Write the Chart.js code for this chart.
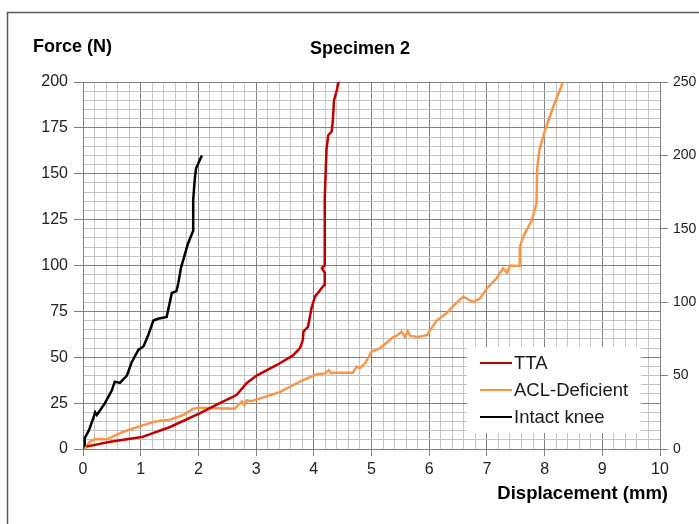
<!DOCTYPE html>
<html>
<head>
<meta charset="utf-8">
<script src="https://cdn.jsdelivr.net/npm/chart.js@4"></script>
<style>
  html, body { margin: 0; padding: 0; background: #fff; }
  #wrap { width: 699px; height: 524px; }
</style>
</head>
<body>
<div id="wrap"><canvas id="forceChart" width="699" height="524"></canvas></div>
<script>
// Specimen 2 - force vs displacement
var seriesNames = ['TTA', 'ACL-Deficient', 'Intact knee'];
var seriesColors = ['#c00000', '#f79646', '#000000'];

var ttaX = [0.06, 0.47, 1.02, 1.51, 2.03, 2.37, 2.66, 2.84, 3.01, 3.36, 3.64, 3.76, 3.81, 3.82, 3.90, 3.96, 4.02, 4.18, 4.19, 4.14, 4.19, 4.19, 4.22, 4.25, 4.31, 4.33, 4.35, 4.40, 4.43];
var ttaY = [1.3, 4, 6.5, 12, 19.6, 25, 29.4, 36, 40, 45.8, 51, 55, 59.4, 64, 66.6, 76.7, 83, 89.4, 96, 98.6, 100, 137.5, 163, 171, 173, 179, 190, 195.6, 200];

var aclX = [0.03, 0.12, 0.21, 0.41, 0.70, 1.05, 1.25, 1.51, 1.74, 1.91, 2.03, 2.63, 2.75, 2.80, 2.84, 2.92, 3.07, 3.41, 3.76, 4.05, 4.20, 4.26, 4.30, 4.34, 4.68, 4.74, 4.80, 4.89, 5.00, 5.15, 5.38, 5.45, 5.52, 5.58, 5.63, 5.67, 5.81, 5.96, 6.13, 6.30, 6.45, 6.59, 6.76, 6.88, 7.00, 7.17, 7.28, 7.35, 7.40, 7.57, 7.57, 7.63, 7.78, 7.86, 7.87, 7.91, 8.01, 8.15, 8.32];
var aclY = [0, 4, 5.4, 5.3, 9.4, 13, 15, 16, 18.5, 22, 22.5, 22, 25.8, 24, 26.5, 26, 27.6, 31, 36.7, 40.8, 41.2, 43, 41.2, 41.6, 41.6, 44.9, 44, 46.7, 53, 55, 61, 62, 64, 61, 64, 61.6, 61, 62, 70, 74, 79, 83, 80, 82, 87.5, 93, 98.5, 96, 100, 99.7, 110, 115.7, 124.8, 134, 152, 163, 174, 186.5, 200];

var intactX = [0.03, 0.03, 0.10, 0.18, 0.21, 0.24, 0.38, 0.50, 0.55, 0.64, 0.76, 0.84, 0.96, 1.05, 1.13, 1.22, 1.30, 1.45, 1.54, 1.62, 1.65, 1.70, 1.82, 1.91, 1.91, 1.94, 1.96, 2.06];
var intactY = [0, 6, 10, 17, 20, 18.5, 25, 32, 36.7, 36, 40, 47, 54, 56, 62, 70, 71, 72, 85, 86, 90, 99, 112, 119, 136, 148, 153, 160];

var xTickLabels = ['0', '1', '2', '3', '4', '5', '6', '7', '8', '9', '10'];
var yTickLabels = ['0', '25', '50', '75', '100', '125', '150', '175', '200'];
var y2TickLabels = ['0', '50', '100', '150', '200', '250'];

function pairUp(xs, ys) {
  return xs.map(function (x, i) { return { x: x, y: ys[i] }; });
}

var allX = [ttaX, aclX, intactX];
var allY = [ttaY, aclY, intactY];

var datasets = seriesNames.map(function (name, i) {
  return {
    label: name,
    data: pairUp(allX[i], allY[i]),
    borderColor: seriesColors[i],
    backgroundColor: seriesColors[i],
    borderWidth: 2.5,
    pointRadius: 0,
    tension: 0,
    yAxisID: 'y'
  };
});

var FONT = 'Liberation Sans, Arial, sans-serif';
var majorGrid = '#808080';
var minorGrid = '#c4c4c4';

function isMajor(v, step) {
  var r = v / step;
  return Math.abs(r - Math.round(r)) < 1e-6;
}

// frame, titles and the legend box inside the plot
var decorations = {
  id: 'decorations',
  beforeDraw: function (chart) {
    var c = chart.ctx;
    c.save();
    c.fillStyle = '#fff';
    c.fillRect(0, 0, chart.width, chart.height);
    c.strokeStyle = '#595959';
    c.lineWidth = 1.5;
    c.strokeRect(7.5, 12.5, 720, 540);
    c.restore();
  },
  afterDraw: function (chart) {
    var c = chart.ctx;
    c.save();
    c.fillStyle = '#000';
    c.textBaseline = 'middle';
    c.font = 'bold 18px ' + FONT;
    c.textAlign = 'left';
    c.fillText('Force (N)', 33, 47);
    c.textAlign = 'center';
    c.fillText('Specimen 2', 360, 49);
    c.font = 'bold 18.5px ' + FONT;
    c.textAlign = 'right';
    c.fillText('Displacement (mm)', 668, 494);

    // legend
    var bx = 467, by = 347, bw = 174, bh = 86;
    c.fillStyle = '#fff';
    c.fillRect(bx, by, bw, bh);
    c.font = '18.5px ' + FONT;
    c.textAlign = 'left';
    chart.data.datasets.forEach(function (ds, i) {
      var ly = 363 + i * 27;
      c.strokeStyle = ds.borderColor;
      c.lineWidth = 2;
      c.beginPath();
      c.moveTo(480, ly);
      c.lineTo(512, ly);
      c.stroke();
      c.fillStyle = '#1a1a1a';
      c.fillText(ds.label, 514, ly + 1);
    });
    c.restore();
  }
};

var ctx = document.getElementById('forceChart').getContext('2d');
var myChart = new Chart(ctx, {
  type: 'line',
  data: { datasets: datasets },
  options: {
    responsive: false,
    animation: false,
    layout: { padding: { top: 82, left: 0, right: 0, bottom: 0 } },
    plugins: {
      legend: { display: false },
      tooltip: { enabled: false }
    },
    scales: {
      x: {
        type: 'linear',
        min: 0,
        max: 10,
        afterFit: function (s) { s.height = 75; },
        ticks: {
          stepSize: 0.2,
          autoSkip: false,
          maxRotation: 0,
          padding: 4,
          color: '#222',
          font: { family: FONT, size: 16 },
          callback: function (v) {
            return isMajor(v, 1) ? xTickLabels[Math.round(v)] : '';
          }
        },
        grid: {
          color: function (c) { return isMajor(c.tick.value, 1) ? majorGrid : minorGrid; },
          tickColor: function (c) { return isMajor(c.tick.value, 1) ? majorGrid : 'rgba(0,0,0,0)'; },
          tickLength: 7,
          lineWidth: 1
        },
        border: { color: majorGrid }
      },
      y: {
        type: 'linear',
        position: 'left',
        min: 0,
        max: 200,
        afterFit: function (s) { s.width = 83; },
        ticks: {
          stepSize: 5,
          autoSkip: false,
          padding: 6,
          color: '#222',
          font: { family: FONT, size: 16 },
          callback: function (v) {
            return isMajor(v, 25) ? yTickLabels[Math.round(v / 25)] : '';
          }
        },
        grid: {
          color: function (c) { return isMajor(c.tick.value, 25) ? majorGrid : minorGrid; },
          tickColor: function (c) { return isMajor(c.tick.value, 25) ? majorGrid : 'rgba(0,0,0,0)'; },
          tickLength: 9,
          lineWidth: 1
        },
        border: { color: majorGrid }
      },
      y2: {
        type: 'linear',
        position: 'right',
        min: 0,
        max: 250,
        afterFit: function (s) { s.width = 39; },
        ticks: {
          stepSize: 50,
          padding: 5,
          color: '#222',
          font: { family: FONT, size: 14 },
          callback: function (v) { return y2TickLabels[Math.round(v / 50)]; }
        },
        grid: {
          drawOnChartArea: false,
          tickColor: majorGrid,
          tickLength: 8
        },
        border: { color: majorGrid }
      }
    }
  },
  plugins: [decorations]
});
</script>
</body>
</html>
